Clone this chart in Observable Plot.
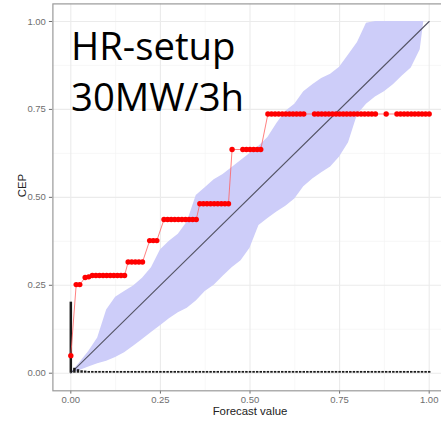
<!DOCTYPE html>
<html>
<head>
<meta charset="utf-8">
<script src="https://cdn.jsdelivr.net/npm/d3@7"></script>
<script src="https://cdn.jsdelivr.net/npm/@observablehq/plot@0.6"></script>
<style>
  html, body { margin: 0; padding: 0; background: white; }
  #wrap { position: relative; width: 441px; height: 421px; overflow: hidden; }
  .note { position: absolute; left: 71px; font-family: "Open Sans", "Noto Sans", sans-serif; font-size: 38.3px; line-height: 51px; color: #000; white-space: nowrap; }
</style>
</head>
<body>
<div id="wrap"></div>
<script>
// ---- data ----
const majorTicks = [0, 0.25, 0.5, 0.75, 1];
const minorTicks = [0.125, 0.375, 0.625, 0.875];
const tickLabels = ["0.00", "0.25", "0.50", "0.75", "1.00"];

// consistency band (lower / upper bounds)
const bandX  = [0, 0.025, 0.05, 0.075, 0.10, 0.125, 0.15, 0.175, 0.20, 0.225, 0.25, 0.275, 0.30, 0.325, 0.35, 0.375, 0.40, 0.425, 0.45, 0.475, 0.50, 0.525, 0.55, 0.575, 0.60, 0.625, 0.65, 0.675, 0.70, 0.725, 0.75, 0.775, 0.80, 0.825, 0.85, 0.875, 0.90, 0.925, 0.95, 0.975, 0.985];
const bandLo = [0, 0.008, 0.018, 0.027, 0.034, 0.045, 0.058, 0.077, 0.096, 0.116, 0.135, 0.155, 0.172, 0.185, 0.205, 0.232, 0.25, 0.276, 0.30, 0.32, 0.355, 0.42, 0.44, 0.458, 0.475, 0.495, 0.53, 0.552, 0.57, 0.586, 0.615, 0.655, 0.735, 0.765, 0.785, 0.80, 0.82, 0.845, 0.868, 0.92, 1.0];
const bandHi = [0, 0.03, 0.062, 0.10, 0.18, 0.216, 0.232, 0.248, 0.27, 0.30, 0.35, 0.375, 0.395, 0.43, 0.505, 0.527, 0.55, 0.565, 0.585, 0.605, 0.625, 0.645, 0.67, 0.71, 0.745, 0.765, 0.80, 0.82, 0.838, 0.85, 0.87, 0.905, 0.94, 0.995, 1.0, 1.0, 1.0, 1.0, 1.0, 1.0, 1.0];

// CEP points (red)
const cepX = [0, 0.015, 0.025,
  0.04, 0.05, 0.06, 0.07, 0.08, 0.09, 0.10, 0.11, 0.12, 0.13, 0.14, 0.15,
  0.16, 0.17, 0.18, 0.19, 0.20,
  0.22, 0.23, 0.24,
  0.26, 0.27, 0.28, 0.29, 0.30, 0.31, 0.32, 0.33, 0.34, 0.35,
  0.36, 0.37, 0.38, 0.39, 0.40, 0.41, 0.42, 0.43, 0.44,
  0.45, 0.48, 0.49, 0.50, 0.51, 0.52, 0.53,
  0.55, 0.56, 0.57, 0.58, 0.59, 0.60, 0.61, 0.62, 0.63, 0.64, 0.65,
  0.68, 0.69, 0.70, 0.71, 0.72, 0.73, 0.74, 0.75, 0.76, 0.77, 0.78, 0.79, 0.80, 0.81, 0.82, 0.83, 0.84, 0.85,
  0.88,
  0.91, 0.92, 0.93, 0.94, 0.95, 0.96, 0.97, 0.98, 0.99, 1.00];
const cepY = [0.05, 0.252, 0.252,
  0.272, 0.274, 0.278, 0.278, 0.278, 0.278, 0.278, 0.278, 0.278, 0.278, 0.278, 0.278,
  0.316, 0.316, 0.316, 0.316, 0.316,
  0.377, 0.377, 0.377,
  0.437, 0.437, 0.437, 0.437, 0.437, 0.437, 0.437, 0.437, 0.437, 0.437,
  0.482, 0.482, 0.482, 0.482, 0.482, 0.482, 0.482, 0.482, 0.482,
  0.636, 0.636, 0.636, 0.636, 0.636, 0.636, 0.636,
  0.737, 0.737, 0.737, 0.737, 0.737, 0.737, 0.737, 0.737, 0.737, 0.737, 0.737,
  0.737, 0.737, 0.737, 0.737, 0.737, 0.737, 0.737, 0.737, 0.737, 0.737, 0.737, 0.737, 0.737, 0.737, 0.737, 0.737, 0.737, 0.737,
  0.737,
  0.737, 0.737, 0.737, 0.737, 0.737, 0.737, 0.737, 0.737, 0.737, 0.737];

// forecast-value frequency (black spikes)
const histX = [0, 0.01, 0.02, 0.03, 0.04, 0.05, 0.06, 0.07, 0.08, 0.09, 0.10, 0.11, 0.12, 0.13, 0.14, 0.15, 0.16, 0.17, 0.18, 0.19, 0.20, 0.21, 0.22, 0.23, 0.24, 0.25, 0.26, 0.27, 0.28, 0.29, 0.30, 0.31, 0.32, 0.33, 0.34, 0.35, 0.36, 0.37, 0.38, 0.39, 0.40, 0.41, 0.42, 0.43, 0.44, 0.45, 0.46, 0.47, 0.48, 0.49, 0.50, 0.51, 0.52, 0.53, 0.54, 0.55, 0.56, 0.57, 0.58, 0.59, 0.60, 0.61, 0.62, 0.63, 0.64, 0.65, 0.66, 0.67, 0.68, 0.69, 0.70, 0.71, 0.72, 0.73, 0.74, 0.75, 0.76, 0.77, 0.78, 0.79, 0.80, 0.81, 0.82, 0.83, 0.84, 0.85, 0.86, 0.87, 0.88, 0.89, 0.90, 0.91, 0.92, 0.93, 0.94, 0.95, 0.96, 0.97, 0.98, 0.99, 1.00];
const histFreq = [0.202, 0.014, 0.010, 0.007, 0.006, 0.005, 0.005, 0.005, 0.005, 0.005, 0.005, 0.005, 0.005, 0.005, 0.005, 0.005, 0.005, 0.005, 0.005, 0.005, 0.005, 0.005, 0.005, 0.005, 0.005, 0.005, 0.005, 0.005, 0.005, 0.005, 0.005, 0.005, 0.005, 0.005, 0.005, 0.005, 0.005, 0.005, 0.005, 0.005, 0.005, 0.005, 0.005, 0.005, 0.005, 0.005, 0.005, 0.005, 0.005, 0.005, 0.005, 0.005, 0.005, 0.005, 0.005, 0.005, 0.005, 0.005, 0.005, 0.005, 0.005, 0.005, 0.005, 0.005, 0.005, 0.005, 0.005, 0.005, 0.005, 0.005, 0.005, 0.005, 0.005, 0.005, 0.005, 0.005, 0.005, 0.005, 0.005, 0.005, 0.005, 0.005, 0.005, 0.005, 0.005, 0.005, 0.005, 0.005, 0.005, 0.005, 0.005, 0.005, 0.005, 0.005, 0.005, 0.005, 0.005, 0.005, 0.005, 0.005, 0.005];

const diagX = [0, 1];
const diagY = [0, 1];

const xTitle = "Forecast value";
const yTitle = "CEP";
const noteLines = ["HR-setup", "30MW/3h"];

// ---- build tables ----
const band = bandX.map((x, i) => ({x, lo: bandLo[i], hi: bandHi[i]}));
const cep = cepX.map((x, i) => ({x, y: cepY[i]}));
const hist = histX.map((x, i) => ({x, f: histFreq[i]}));
const diag = diagX.map((x, i) => ({x, y: diagY[i]}));
const fmt = v => tickLabels[majorTicks.indexOf(v)];

const chart = Plot.plot({
  width: 441,
  height: 421,
  marginLeft: 52.4,
  marginRight: -5.6,
  marginTop: 3.4,
  marginBottom: 30.7,
  style: {fontFamily: "'Liberation Sans', Arial, sans-serif", fontSize: "9.5px", color: "#6e6e6e", background: "white"},
  x: {domain: [-0.05, 1.05], ticks: majorTicks, tickFormat: fmt, tickSize: 3.3, tickPadding: 2.5, label: null},
  y: {domain: [-0.05, 1.05], ticks: majorTicks, tickFormat: fmt, tickSize: 3.5, tickPadding: 3.5, label: null},
  marks: [
    Plot.ruleX(minorTicks, {stroke: "#f3f3f3", strokeWidth: 0.7}),
    Plot.ruleY(minorTicks, {stroke: "#f3f3f3", strokeWidth: 0.7}),
    Plot.ruleX(majorTicks, {stroke: "#ebebeb", strokeWidth: 1.1}),
    Plot.ruleY(majorTicks, {stroke: "#ebebeb", strokeWidth: 1.1}),
    Plot.areaY(band, {x: "x", y1: "lo", y2: "hi", fill: "#cdcdf9"}),
    Plot.line(diag, {x: "x", y: "y", stroke: "#555566", strokeWidth: 1.1}),
    Plot.ruleX(hist, {x: "x", y1: 0, y2: "f", stroke: "#1a1a1a", strokeWidth: 2.5}),
    Plot.line(cep, {x: "x", y: "y", stroke: "#ff6060", strokeWidth: 0.8}),
    Plot.dot(cep, {x: "x", y: "y", r: 2.7, fill: "#ff0000", stroke: "none"}),
    Plot.frame({stroke: "#9a9a9a", strokeWidth: 1.2}),
    Plot.text([xTitle], {frameAnchor: "bottom", dy: 21, text: d => d, fill: "#222", fontSize: 11.4, lineAnchor: "middle"}),
    Plot.text([yTitle], {frameAnchor: "left", dx: -31, text: d => d, fill: "#222", fontSize: 11.4, rotate: -90, lineAnchor: "middle"})
  ]
});

const wrap = document.getElementById("wrap");
wrap.appendChild(chart);
noteLines.forEach((t, i) => {
  const d = document.createElement("div");
  d.className = "note";
  d.style.top = (19.5 + i * 51) + "px";
  d.textContent = t;
  wrap.appendChild(d);
});
</script>
</body>
</html>
